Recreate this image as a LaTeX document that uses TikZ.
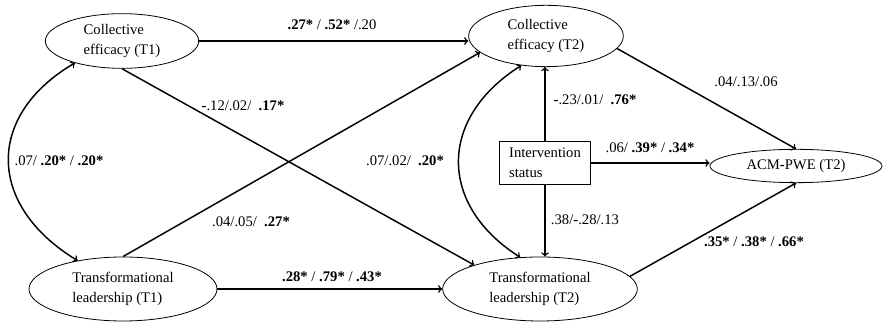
\documentclass[tikz,border=0pt]{standalone}
\usepackage{fontspec}
\setmainfont{Liberation Serif}
\usepackage{tikz}
\usetikzlibrary{positioning,shapes,arrows}
\tikzset{
  basenode/.style = {align=left, inner sep=0pt, font=\fontsize{11}{15}\selectfont},
  lat_n/.style = {basenode, ellipse, draw, line width=0.6pt},
  obs_n/.style = {basenode, rectangle, draw, line width=0.6pt,
    minimum width=68pt, minimum height=32pt},
  coef_n/.style = {basenode, inner sep=1pt}
}

\begin{document}
\begin{tikzpicture}[x=0.75pt,y=-0.75pt,->,>=to,line width=1.1pt]
\useasboundingbox (0,0) rectangle (883,323);
% variables
\node [lat_n, minimum width=115pt, minimum height=41pt] (ce1) at (122,41) {Collective\\efficacy (T1)};
\node [lat_n, minimum width=116pt, minimum height=46pt] (ce2) at (546,36) {Collective\\efficacy (T2)};
\node [lat_n, minimum width=141pt, minimum height=48pt] (tl1) at (123,289) {Transformational\\leadership (T1)};
\node [lat_n, minimum width=146pt, minimum height=48pt] (tl2) at (540,289) {Transformational\\leadership (T2)};
\node [lat_n, minimum width=129pt, minimum height=25pt] (acm) at (796,166) {ACM\textbf{-}PWE (T2)};
\node [obs_n] (iv) at (545,163) {Intervention\\status};

% paths
\draw (ce1.east) -- (ce1.east -| ce2.west);
\draw (tl1.east) -- (tl2.west);
\draw (ce1.south) -- (tl2.160);
\draw (tl1.north) -- (ce2.194);
\draw [<->] (ce1.205) .. controls (-14,115) and (-14,205) .. (tl1.148);
\draw [<->] (ce2.230) .. controls (438,118) and (438,205) .. (tl2.122);
\draw (iv.north) -- (iv.north |- ce2.south);
\draw (iv.south) -- (iv.south |- tl2.north);
\draw (iv.east) -- (iv.east -| acm.west);
\draw (ce2.-10) -- (acm.north);
\draw (tl2.8) -- (acm.south);

% coefficients
\node [coef_n] (c1) at (332,25) {\textbf{.27*} / \textbf{.52*} /.20};
\node [coef_n] (c2) at (243,106) {\textbf{-}.12/.02/\ \ \textbf{.17*}};
\node [coef_n] (c3) at (59,161) {.07/ \textbf{.20*} / \textbf{.20*}};
\node [coef_n] (c4) at (251,222) {.04/.05/\ \ \textbf{.27*}};
\node [coef_n] (c5) at (405,161) {.07/.02/\ \ \textbf{.20*}};
\node [coef_n] (c6) at (595,100) {\textbf{-}.23/.01/\ \ \textbf{.76*}};
\node [coef_n] (c7) at (650,148) {.06/ \textbf{.39*} / \textbf{.34*}};
\node [coef_n] (c8) at (746,82) {.04/.13/.06};
\node [coef_n] (c9) at (585,220) {.38/\textbf{-}.28/.13};
\node [coef_n] (c10) at (754,242) {\textbf{.35*} / \textbf{.38*} / \textbf{.66*}};
\node [coef_n] (c11) at (332,277) {\textbf{.28*} / \textbf{.79*} / \textbf{.43*}};
\end{tikzpicture}
\end{document}
